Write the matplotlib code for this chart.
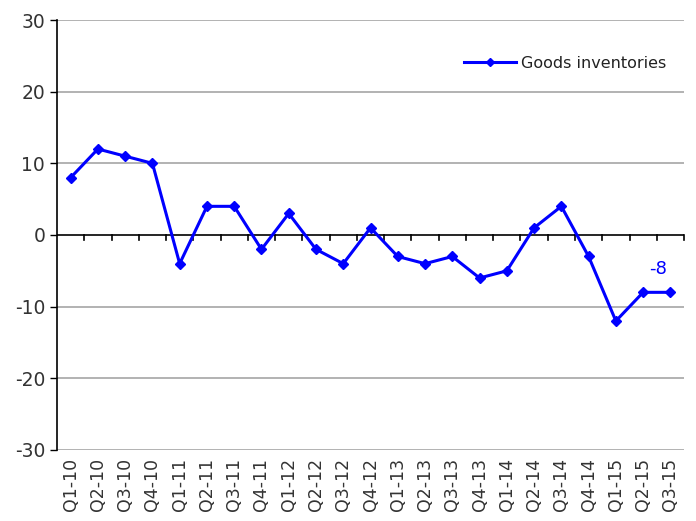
import matplotlib.pyplot as plt
import numpy as np

quarters = ['Q1-10', 'Q2-10', 'Q3-10', 'Q4-10',
            'Q1-11', 'Q2-11', 'Q3-11', 'Q4-11',
            'Q1-12', 'Q2-12', 'Q3-12', 'Q4-12',
            'Q1-13', 'Q2-13', 'Q3-13', 'Q4-13',
            'Q1-14', 'Q2-14', 'Q3-14', 'Q4-14',
            'Q1-15', 'Q2-15', 'Q3-15']
goods_inventories = [8, 12, 11, 10, -4, 4, 4, -2, 3, -2, -4, 1,
                     -3, -4, -3, -6, -5, 1, 4, -3, -12, -8, -8]

plt.rcParams['font.family'] = ['DejaVu Sans']
plt.rcParams['axes.unicode_minus'] = False

fig = plt.figure(figsize=(6.96, 5.21), dpi=100)
ax = fig.add_axes([0.0819, 0.1363, 0.9009, 0.8253])

x = np.arange(len(quarters))
ax.plot(x, goods_inventories, color='#0000ff', lw=2.2, marker='D', ms=5.5,
        label='Goods inventories')

ax.set_xlim(-0.5, len(quarters) - 0.5)
ax.set_ylim(-30, 30)
ax.set_yticks(np.arange(-30, 31, 10))
ax.tick_params(axis='y', labelsize=13.5, length=5, width=1, direction='out')
for lbl in ax.get_yticklabels():
    lbl.set_color('#333333')

# gridlines
for v in [-30, -20, -10, 10, 20, 30]:
    ax.axhline(v, color='#a6a6a6', lw=1.2, zorder=0)
ax.axhline(0, color='black', lw=1.2, zorder=1)

# category tick marks on zero line
for b in np.arange(0.5, len(quarters) - 0.5 + 1e-9, 1.0):
    ax.plot([b, b], [0, -0.75], color='black', lw=1.2, clip_on=False, zorder=1)

ax.set_xticks(x)
ax.set_xticklabels(quarters, rotation=90, fontsize=12.5, color='#333333')
ax.tick_params(axis='x', length=0, pad=6)

for s in ['top', 'right', 'bottom']:
    ax.spines[s].set_visible(False)
ax.spines['left'].set_linewidth(1.2)

ax.annotate('-8', (x[-1], goods_inventories[-1]), xytext=(-9, 10),
            textcoords='offset points', color='#0000ff', fontsize=13,
            ha='center', va='bottom')

leg = ax.legend(loc='upper right', bbox_to_anchor=(0.995, 0.95), frameon=False,
                fontsize=11.5, handlelength=3.3, markerscale=0.7,
                handletextpad=0.3)
for t in leg.get_texts():
    t.set_color('#222222')

fig.savefig('out.png', dpi=100)
